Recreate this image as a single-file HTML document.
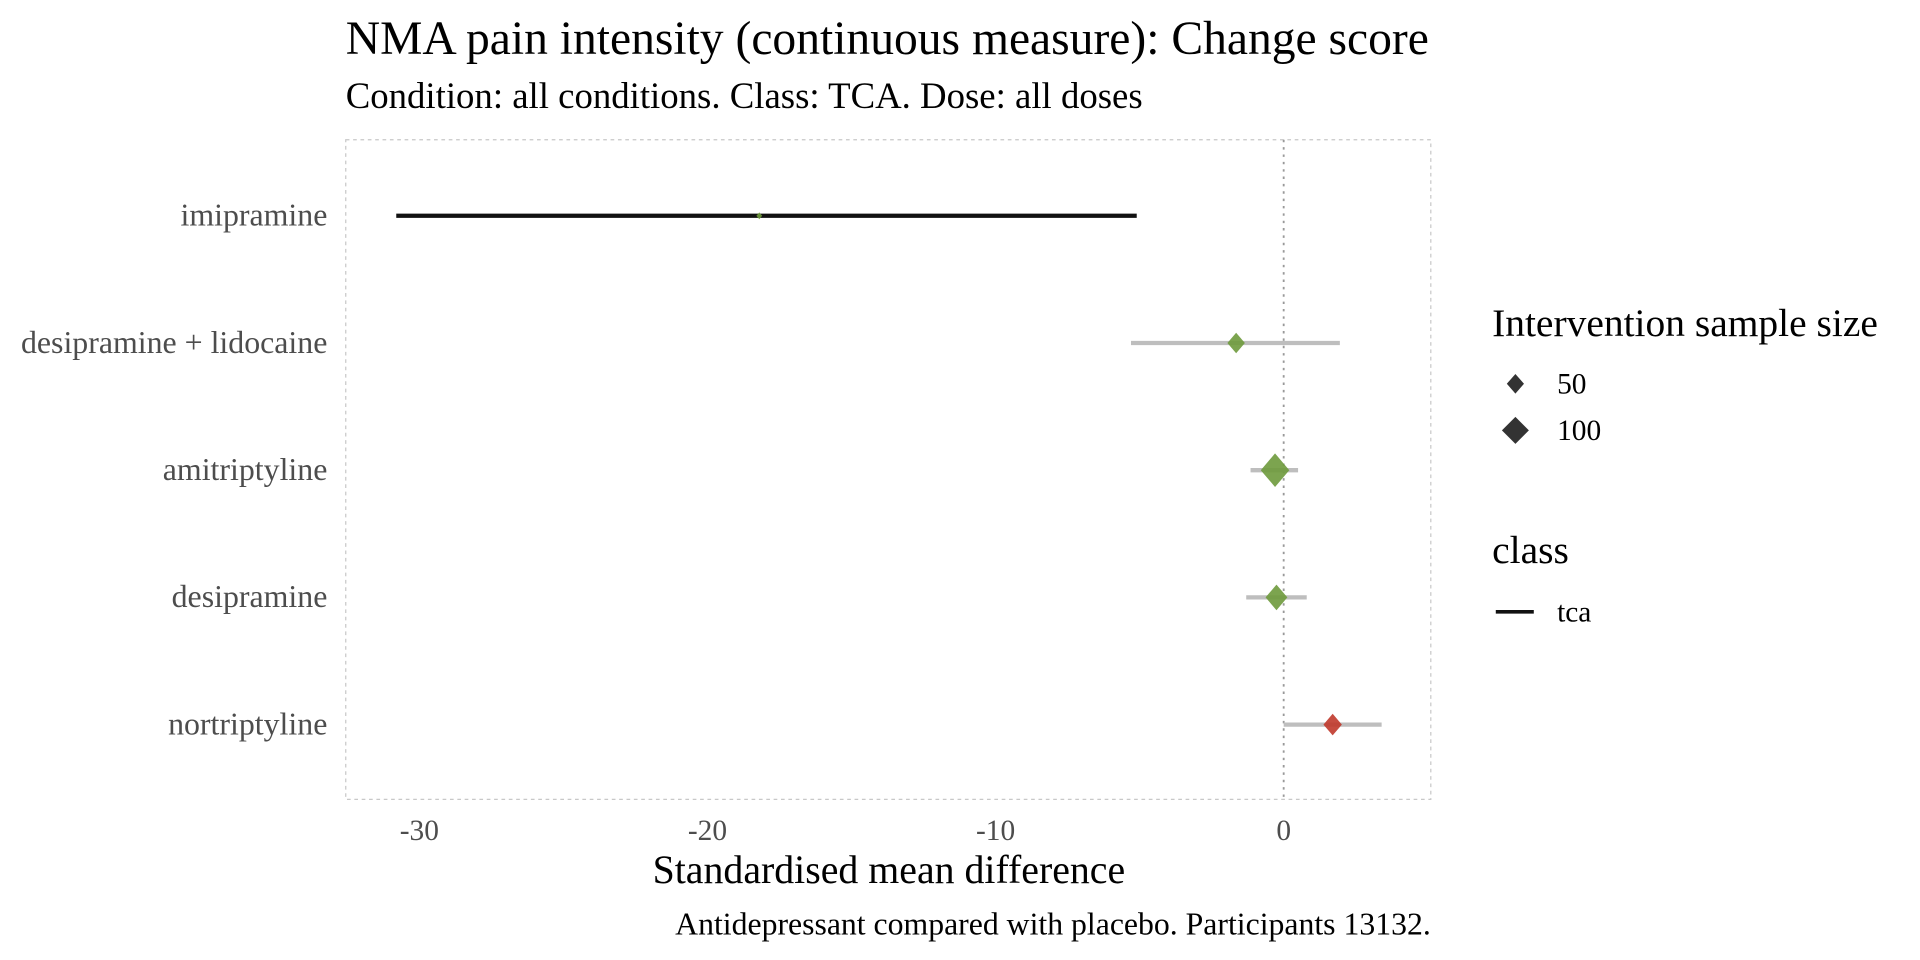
<!DOCTYPE html>
<html><head><meta charset="utf-8"><style>
html,body{margin:0;padding:0;background:#fff;}
svg{display:block;font-family:"Liberation Serif",serif;}
</style></head><body>
<svg id="chart" width="1920" height="960" viewBox="0 0 1566 783" xmlns="http://www.w3.org/2000/svg">
<text x="282" y="44" font-size="38.8" fill="#000">NMA pain intensity (continuous measure): Change score</text>
<text x="282" y="88" font-size="30" fill="#000">Condition: all conditions. Class: TCA. Dose: all doses</text>
<rect x="282" y="114" width="885" height="538" fill="none" stroke="#c8c8c8" stroke-dasharray="3,3"/>
<g id="marks"></g>
<text x="725" y="720" font-size="32.5" text-anchor="middle">Standardised mean difference</text>
<text x="1167" y="762" font-size="25.9" text-anchor="end">Antidepressant compared with placebo. Participants 13132.</text>
<g>
<text x="1217" y="274" font-size="32.2">Intervention sample size</text>
<path d="M1236 305 l7 8 l-7 8 l-7 -8z" fill="#333"/>
<text x="1270" y="321" font-size="24">50</text>
<path d="M1236 340 l11 11 l-11 11 l-11 -11z" fill="#333"/>
<text x="1270" y="359" font-size="24">100</text>
</g>
<g>
<text x="1217" y="459" font-size="32.2">class</text>
<line x1="1220" y1="499" x2="1251" y2="499" stroke="#111" stroke-width="3"/>
<text x="1270" y="507" font-size="24">tca</text>
</g>
</svg>
<script>
const drugs=["imipramine","desipramine + lidocaine","amitriptyline","desipramine","nortriptyline"];
const estimates=[-18.2,-1.65,-0.3,-0.25,1.7];
const lower=[-30.8,-5.3,-1.15,-1.3,0.0];
const upper=[-5.1,1.95,0.5,0.8,3.4];
const sampleSizes=[5,45,120,70,50];
const ticks=[-30,-20,-10,0];
const NS="http://www.w3.org/2000/svg";
const g=document.getElementById('marks');
function xs(v){return 1047+v*23.5;}
function ys(i){return 176+i*103.75;}
function mk(t,a){const e=document.createElementNS(NS,t);for(const k in a)e.setAttribute(k,a[k]);g.appendChild(e);return e;}
let z=mk('line',{x1:xs(0),x2:xs(0),y1:114,y2:652,stroke:'#999','stroke-dasharray':'2,4','stroke-width':1.5});


ticks.forEach(t=>{const e=mk('text',{x:xs(t),y:685,'font-size':24,'text-anchor':'middle',fill:'#4d4d4d'});e.textContent=String(t);

});
drugs.forEach((d,i)=>{
 const y=ys(i);
 const lb=mk('text',{x:267,y:y+8,'font-size':26,'text-anchor':'end',fill:'#4d4d4d'});lb.textContent=d;
 
 
 const ln=mk('line',{x1:xs(lower[i]),x2:xs(upper[i]),y1:y,y2:y,stroke:i===0?'#111':'#bebebe','stroke-width':3.5});
 
 
 const r=Math.max(2.5,Math.sqrt(sampleSizes[i])*1.25);
 const col=estimates[i]>0?'#c0392b':'#6e9a3c';
 const x=xs(estimates[i]);
 const p=mk('path',{d:`M${x} ${y-r} L${x+r*0.85} ${y} L${x} ${y+r} L${x-r*0.85} ${y}Z`,fill:col,'fill-opacity':0.9});
 
 
});
</script>
</body></html>
